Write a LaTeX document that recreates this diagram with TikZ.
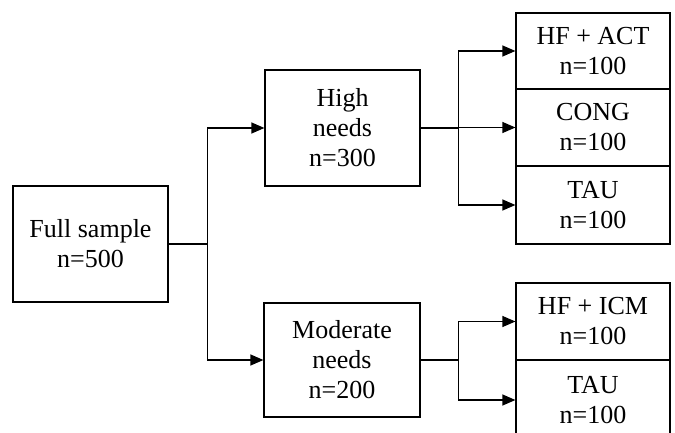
\documentclass[tikz,border=0pt]{standalone}
\usepackage{fontspec}
\setmainfont{Liberation Serif}
\usetikzlibrary{arrows.meta}
\begin{document}
\begin{tikzpicture}[x=1pt,y=-1pt,
  box/.style={draw=black,line width=1.2pt,rectangle,align=center,inner sep=0pt,
    font=\fontsize{26}{30}\selectfont},
  conn/.style={line width=1.2pt},
  arr/.style={line width=1.2pt,-{Triangle[length=13pt,width=11pt]}}]
\clip (0,0) rectangle (675,433);
\fill[white] (0,0) rectangle (675,433);
\node[box,minimum width=155pt,minimum height=116pt] (full) at (90.5,244) {Full sample\\n=500};
\node[box,minimum width=155pt,minimum height=116pt] (high) at (342.5,128) {High\\needs\\n=300};
\node[box,minimum width=156pt,minimum height=114pt] (mod) at (342,360) {Moderate\\needs\\n=200};
\node[box,minimum width=154pt,minimum height=76pt] (r1) at (593,51) {HF + ACT\\n=100};
\node[box,minimum width=154pt,minimum height=77pt] (r2) at (593,127.5) {CONG\\n=100};
\node[box,minimum width=154pt,minimum height=78pt] (r3) at (593,205) {TAU\\n=100};
\node[box,minimum width=154pt,minimum height=77pt] (r4) at (593,321.5) {HF + ICM\\n=100};
\node[box,minimum width=154pt,minimum height=80pt] (r5) at (593,400) {TAU\\n=100};
% full sample split
\draw[conn] (full.east) -- ++(39,0) coordinate (fb);
\draw[arr] (fb) |- (high.west);
\draw[arr] (fb) |- (mod.west);
% high needs split
\draw[conn] (high.east) -- ++(38,0) coordinate (hb);
\draw[arr] (hb) |- (r1.west);
\draw[arr] (hb) |- (r2.west);
\draw[arr] (hb) |- (r3.west);
% moderate split
\draw[conn] (mod.east) -- ++(38,0) coordinate (mb);
\draw[arr] (mb) |- (r4.west);
\draw[arr] (mb) |- (r5.west);
\end{tikzpicture}
\end{document}
